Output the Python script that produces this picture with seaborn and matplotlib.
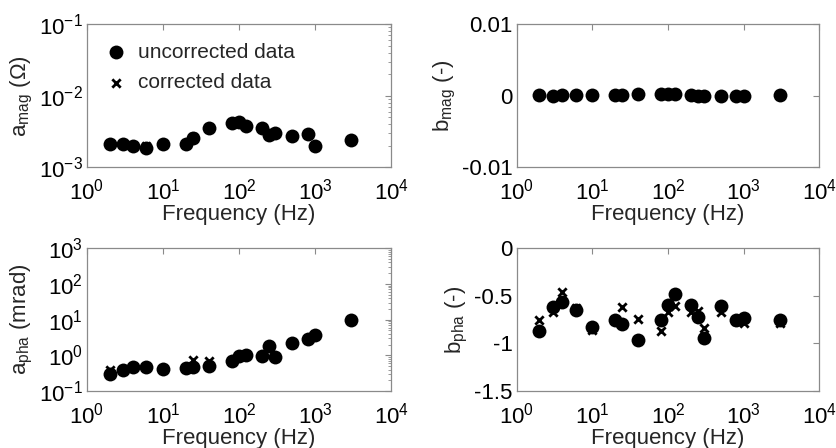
import numpy as np
import pandas as pd
import matplotlib
matplotlib.use("Agg")
import matplotlib.pyplot as plt
import matplotlib.ticker as mticker
import seaborn as sns

# ---- data ----
freq = [2, 3, 4, 6, 10, 20, 25, 40, 80, 100, 125, 200, 250, 300, 500, 800, 1000, 3000]

amag_unc = [2.08e-3, 2.13e-3, 1.95e-3, 1.87e-3, 2.13e-3, 2.08e-3, 2.58e-3, 3.57e-3, 4.15e-3,
            4.29e-3, 3.80e-3, 3.53e-3, 2.79e-3, 3.00e-3, 2.73e-3, 2.94e-3, 1.97e-3, 2.42e-3]
amag_cor = [2.10e-3, 2.12e-3, 1.97e-3, 1.95e-3, 2.12e-3, 2.08e-3, 2.60e-3, 3.55e-3, 4.15e-3,
            4.28e-3, 3.80e-3, 3.52e-3, 2.80e-3, 3.00e-3, 2.73e-3, 2.94e-3, 1.98e-3, 2.42e-3]

bmag_unc = [0.0001, 0.0, 0.0001, 0.0001, 0.0001, 0.0001, 0.0001, 0.0002, 0.0002,
            0.0002, 0.0002, 0.0001, 0.0, 0.0, 0.0, 0.0, 0.0, 0.0001]
bmag_cor = [0.0001, 0.0, 0.0001, 0.0001, 0.0001, 0.0001, 0.0001, 0.0002, 0.0002,
            0.0002, 0.0002, 0.0001, 0.0, 0.0, 0.0, 0.0, 0.0, 0.0001]

apha_unc = [0.294, 0.389, 0.483, 0.47, 0.415, 0.434, 0.47, 0.505, 0.68,
            0.96, 1.0, 0.96, 1.8, 0.9, 2.28, 2.83, 3.67, 9.7]
apha_cor = [0.40, 0.39, 0.48, 0.47, 0.42, 0.44, 0.72, 0.70, 0.68,
            0.96, 1.0, 0.96, 1.8, 0.9, 2.28, 2.83, 3.67, 9.7]

bpha_unc = [-0.87, -0.62, -0.56, -0.65, -0.83, -0.755, -0.80, -0.96, -0.755,
            -0.60, -0.48, -0.60, -0.72, -0.94, -0.61, -0.755, -0.73, -0.755]
bpha_cor = [-0.75, -0.67, -0.46, -0.63, -0.86, -0.755, -0.62, -0.745, -0.87,
            -0.67, -0.61, -0.67, -0.66, -0.84, -0.67, -0.76, -0.79, -0.78]

labels = ["uncorrected data", "corrected data"]
ylabels = [r"$\mathregular{a_{mag}}$ ($\Omega$)", r"$\mathregular{b_{mag}}$ (-)",
           r"$\mathregular{a_{pha}}$ (mrad)", r"$\mathregular{b_{pha}}$ (-)"]
xlabel = "Frequency (Hz)"

# ---- style ----
sns.set_style("white")
plt.rcParams["font.family"] = ["Liberation Sans", "DejaVu Sans"]
plt.rcParams["mathtext.fontset"] = "custom"
plt.rcParams["mathtext.rm"] = "Liberation Sans"
plt.rcParams["mathtext.it"] = "Liberation Sans:italic"
plt.rcParams["mathtext.default"] = "regular"
plt.rcParams["axes.unicode_minus"] = False

FS = 16
GRAY = "#8a8a8a"

fig = plt.figure(figsize=(8.36, 4.48), dpi=100)
positions = [
    [0.104, 0.627, 0.364, 0.319],
    [0.618, 0.627, 0.362, 0.319],
    [0.104, 0.127, 0.364, 0.319],
    [0.618, 0.127, 0.362, 0.319],
]
series = [(amag_unc, amag_cor), (bmag_unc, bmag_cor), (apha_unc, apha_cor), (bpha_unc, bpha_cor)]

axes = []
for i, (pos, (unc, cor)) in enumerate(zip(positions, series)):
    ax = fig.add_axes(pos)
    df = pd.DataFrame({"f": freq, "unc": unc, "cor": cor})
    sns.scatterplot(data=df, x="f", y="unc", ax=ax, marker="o", s=100, color="black",
                    edgecolor="black", linewidth=0, label=labels[0], zorder=3)
    sns.scatterplot(data=df, x="f", y="cor", ax=ax, marker="x", s=36, color="black",
                    linewidth=2.0, label=labels[1], zorder=4)
    ax.set_xscale("log")
    ax.set_xlim(1, 1e4)
    ax.set_xticks([1, 10, 100, 1000, 10000])
    ax.xaxis.set_minor_locator(mticker.LogLocator(base=10, subs=np.arange(2, 10)))
    ax.xaxis.set_minor_formatter(mticker.NullFormatter())
    ax.set_xlabel(xlabel, fontsize=FS, labelpad=0)
    ax.set_ylabel(ylabels[i], fontsize=FS, labelpad=3)
    for sp in ax.spines.values():
        sp.set_color(GRAY)
        sp.set_linewidth(0.9)
    ax.tick_params(which="both", direction="in", top=True, right=True, colors=GRAY,
                   labelcolor="black", labelsize=FS)
    ax.tick_params(which="major", length=4)
    ax.tick_params(which="minor", length=2.5)
    ax.tick_params(axis="x", pad=8)
    ax.tick_params(axis="y", pad=3)
    if ax.get_legend() is not None and i != 0:
        ax.get_legend().remove()
    axes.append(ax)

# a_mag
ax = axes[0]
ax.set_yscale("log")
ax.set_ylim(1e-3, 1e-1)
ax.set_yticks([1e-3, 1e-2, 1e-1])
ax.yaxis.set_minor_locator(mticker.LogLocator(base=10, subs=np.arange(2, 10)))
ax.yaxis.set_minor_formatter(mticker.NullFormatter())
leg = ax.legend(loc="upper left", frameon=False, fontsize=15, handletextpad=0.05,
                borderaxespad=0.0, labelspacing=0.55, bbox_to_anchor=(0.0, 0.93))

# b_mag
ax = axes[1]
ax.set_ylim(-0.01, 0.01)
ax.set_yticks([-0.01, 0, 0.01])
ax.yaxis.set_major_formatter(mticker.FuncFormatter(lambda v, p: "%g" % round(v, 4)))

# a_pha
ax = axes[2]
ax.set_yscale("log")
ax.set_ylim(1e-1, 1e3)
ax.set_yticks([1e-1, 1, 10, 100, 1000])
ax.yaxis.set_minor_locator(mticker.LogLocator(base=10, subs=np.arange(2, 10)))
ax.yaxis.set_minor_formatter(mticker.NullFormatter())

# b_pha
ax = axes[3]
ax.set_ylim(-1.5, 0)
ax.set_yticks([-1.5, -1, -0.5, 0])
ax.yaxis.set_major_formatter(mticker.FuncFormatter(lambda v, p: "%g" % v))

fig.savefig("out.png", dpi=100)
